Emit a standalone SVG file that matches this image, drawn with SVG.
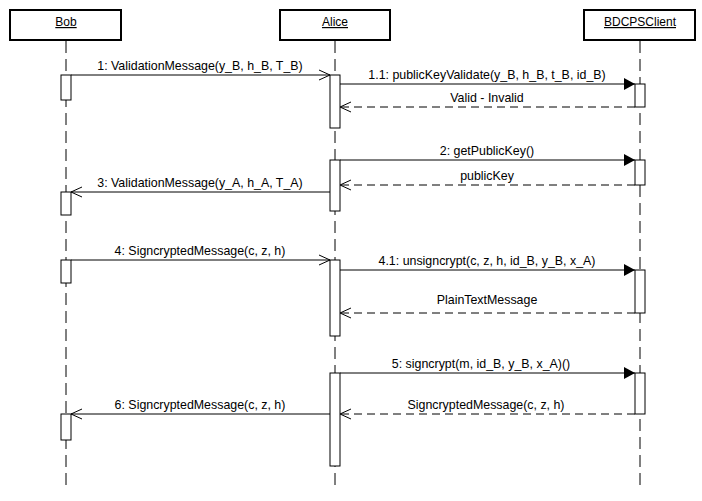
<svg xmlns="http://www.w3.org/2000/svg" width="702" height="501" viewBox="0 0 702 501">
<style>
text{font-family:"Liberation Sans",Arial,sans-serif;font-size:12.4px;fill:#000;text-anchor:middle}
.hdr{fill:#fff;stroke:#000;stroke-width:2}
.hdr-t{text-decoration:underline;font-size:12px}
.life{stroke:#000;stroke-width:1;stroke-dasharray:12,6;fill:none}
.act{fill:#fff;stroke:#000;stroke-width:1}
.msg{stroke:#000;stroke-width:1;fill:none}
.ret{stroke:#000;stroke-width:1;fill:none;stroke-dasharray:8,5}
</style>
<defs>
<marker id="open" markerWidth="12" markerHeight="12" refX="11" refY="6" orient="auto" markerUnits="userSpaceOnUse">
<path d="M0,1 L11,6 L0,11" fill="none" stroke="#000" stroke-width="1"/>
</marker>
<marker id="fill" markerWidth="12" markerHeight="14" refX="11" refY="7" orient="auto" markerUnits="userSpaceOnUse">
<path d="M0,1 L11,7 L0,13 Z" fill="#000"/>
</marker>
</defs>
<g id="lifelines">
<line class="life" x1="66" y1="41" x2="66" y2="490"/>
<line class="life" x1="335" y1="41" x2="335" y2="490"/>
<line class="life" x1="640" y1="41" x2="640" y2="490"/>
</g>
<g id="bob">
<rect class="hdr" x="10" y="10" width="111" height="30"/>
<text class="hdr-t" x="66" y="26">Bob</text>
</g>
<g id="alice">
<rect class="hdr" x="280" y="10" width="110" height="30"/>
<text class="hdr-t" x="335" y="26">Alice</text>
</g>
<g id="bdcps">
<rect class="hdr" x="584" y="10" width="111" height="30"/>
<text class="hdr-t" x="640" y="26">BDCPSClient</text>
</g>
<g id="activations">
<rect class="act" x="61" y="75" width="10" height="25"/>
<rect class="act" x="61" y="192" width="10" height="23"/>
<rect class="act" x="61" y="260" width="10" height="23"/>
<rect class="act" x="61" y="414" width="10" height="26"/>
<rect class="act" x="330" y="75" width="10" height="53"/>
<rect class="act" x="330" y="160" width="10" height="51"/>
<rect class="act" x="330" y="260" width="10" height="76"/>
<rect class="act" x="330" y="373" width="10" height="93"/>
<rect class="act" x="635" y="84" width="10" height="23"/>
<rect class="act" x="635" y="160" width="10" height="25"/>
<rect class="act" x="635" y="270" width="10" height="43"/>
<rect class="act" x="635" y="373" width="10" height="41"/>
</g>
<g id="connectors">
<line class="msg" x1="71" y1="75" x2="330" y2="75" marker-end="url(#open)"/>
<text x="200" y="70">1: ValidationMessage(y_B, h_B, T_B)</text>
<line class="msg" x1="340" y1="84" x2="635" y2="84" marker-end="url(#fill)"/>
<text x="487" y="79">1.1: publicKeyValidate(y_B, h_B, t_B, id_B)</text>
<line class="ret" x1="635" y1="107" x2="340" y2="107" marker-end="url(#open)"/>
<text x="487" y="102">Valid - Invalid</text>
<line class="msg" x1="340" y1="160" x2="635" y2="160" marker-end="url(#fill)"/>
<text x="487" y="155">2: getPublicKey()</text>
<line class="ret" x1="635" y1="185" x2="340" y2="185" marker-end="url(#open)"/>
<text x="487" y="180">publicKey</text>
<line class="msg" x1="330" y1="192" x2="71" y2="192" marker-end="url(#open)"/>
<text x="200" y="187">3: ValidationMessage(y_A, h_A, T_A)</text>
<line class="msg" x1="71" y1="260" x2="330" y2="260" marker-end="url(#open)"/>
<text x="200" y="255">4: SigncryptedMessage(c, z, h)</text>
<line class="msg" x1="340" y1="270" x2="635" y2="270" marker-end="url(#fill)"/>
<text x="487" y="265">4.1: unsigncrypt(c, z, h, id_B, y_B, x_A)</text>
<line class="ret" x1="635" y1="313" x2="340" y2="313" marker-end="url(#open)"/>
<text x="487" y="304">PlainTextMessage</text>
<line class="msg" x1="340" y1="373" x2="635" y2="373" marker-end="url(#fill)"/>
<text x="481" y="368">5: signcrypt(m, id_B, y_B, x_A)()</text>
<line class="ret" x1="635" y1="414" x2="340" y2="414" marker-end="url(#open)"/>
<text x="486" y="409">SigncryptedMessage(c, z, h)</text>
<line class="msg" x1="330" y1="414" x2="71" y2="414" marker-end="url(#open)"/>
<text x="200" y="409">6: SigncryptedMessage(c, z, h)</text>
</g>
</svg>
